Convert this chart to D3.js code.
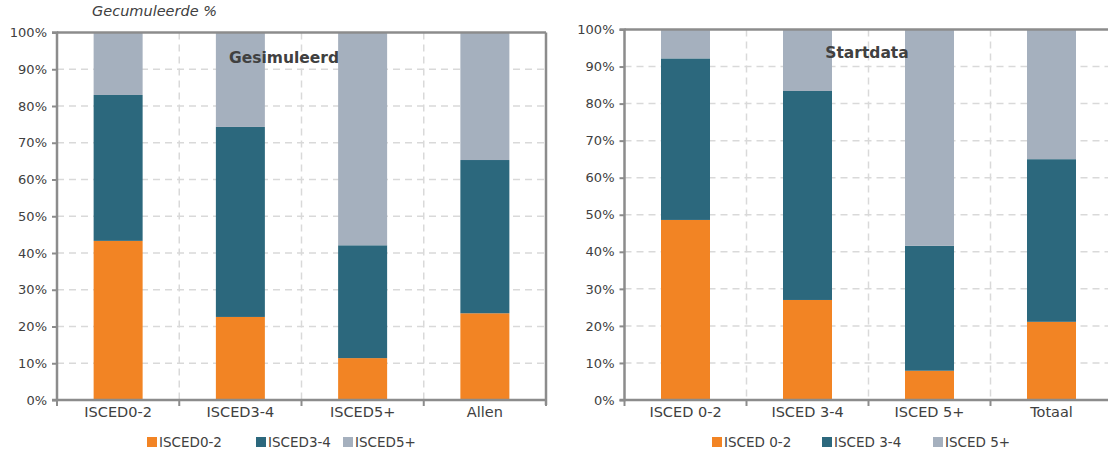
<!DOCTYPE html>
<html><head><meta charset="utf-8">
<script src="https://cdn.jsdelivr.net/npm/d3@7"></script>
<style>
body{margin:0;background:#fff;}
svg text{font-family:"DejaVu Sans",sans-serif;fill:#404040;}
</style></head>
<body><svg id="c" width="1108" height="450"></svg>
<script>
const simCategories = ["ISCED0-2","ISCED3-4","ISCED5+","Allen"];
const simSeries = ["ISCED0-2","ISCED3-4","ISCED5+"];
const simLow = [43.3, 22.6, 11.4, 23.6];
const simMid = [39.7, 51.7, 30.7, 41.7];
const simHigh = [17.0, 25.7, 57.9, 34.7];

const startCategories = ["ISCED 0-2","ISCED 3-4","ISCED 5+","Totaal"];
const startSeries = ["ISCED 0-2","ISCED 3-4","ISCED 5+"];
const startLow = [48.6, 27.0, 7.9, 21.1];
const startMid = [43.6, 56.4, 33.7, 43.9];
const startHigh = [7.8, 16.6, 58.4, 35.0];

const yTicks = [0,10,20,30,40,50,60,70,80,90,100];
const colors = ["#F28424","#2C687D","#A5B0BE"];

const svg = d3.select("#c");
const FONT = "DejaVu Sans";

function drawChart(o){
  const g = svg.append("g");
  const x = d3.scaleBand().domain(o.cats).range([o.x0,o.x1]).paddingInner(0).paddingOuter(0);
  const y = d3.scaleLinear().domain([0,100]).range([o.y0,o.y1]);
  const rows = o.cats.map((c,i)=>({cat:c, a:o.vals[0][i], b:o.vals[1][i], c2:o.vals[2][i]}));
  const stack = d3.stack().keys(["a","b","c2"])(rows);
  g.append("g").selectAll("line").data(yTicks.filter(t=>t>0&&t<100)).join("line")
    .attr("x1",o.x0).attr("x2",o.x1).attr("y1",d=>y(d)).attr("y2",d=>y(d))
    .attr("stroke","#d9d9d9").attr("stroke-width",1.5).attr("stroke-dasharray","7,5");
  g.append("g").selectAll("line").data(o.cats.slice(1)).join("line")
    .attr("x1",d=>x(d)).attr("x2",d=>x(d)).attr("y1",o.y1).attr("y2",o.y0)
    .attr("stroke","#d9d9d9").attr("stroke-width",1.5).attr("stroke-dasharray","7,5");
  const bw = 49;
  g.append("g").selectAll("g").data(stack).join("g").attr("fill",(d,i)=>colors[i])
    .selectAll("rect").data(d=>d).join("rect")
    .attr("x",d=>x(d.data.cat)+x.bandwidth()/2-bw/2).attr("width",bw)
    .attr("y",d=>y(d[1])).attr("height",d=>y(d[0])-y(d[1]));
  g.append("line").attr("x1",o.x0).attr("x2",o.x1).attr("y1",o.y1).attr("y2",o.y1)
    .attr("stroke","#8c8c8c").attr("stroke-width",2.5);
  g.append("line").attr("x1",o.x1).attr("x2",o.x1).attr("y1",o.y1).attr("y2",o.y0+5)
    .attr("stroke","#8c8c8c").attr("stroke-width",2.5);
  const ya = g.append("g").attr("transform",`translate(${o.x0},0)`)
    .call(d3.axisLeft(y).tickValues(yTicks).tickFormat(d=>d+"%").tickSize(5).tickPadding(5));
  ya.select(".domain").attr("stroke","#8c8c8c").attr("stroke-width",2.5).attr("d",`M-5,${o.y0}H0V${o.y1}H-5`);
  ya.selectAll(".tick line").attr("stroke","#8c8c8c").attr("stroke-width",2);
  ya.selectAll(".tick text").style("font-size","13px").style("font-family",FONT).attr("fill","#404040");
  const xa = g.append("g").attr("transform",`translate(0,${o.y0})`)
    .call(d3.axisBottom(x).tickSize(0).tickPadding(7));
  xa.select(".domain").attr("stroke","#8c8c8c").attr("stroke-width",2.5).attr("d",`M${o.x0},0H${o.x1}`);
  xa.selectAll(".tick text").style("font-size","14.5px").style("font-family",FONT).attr("fill","#404040");
  const bounds = o.cats.map(c=>x(c)).concat([o.x1]);
  g.append("g").selectAll("line").data(bounds).join("line")
    .attr("x1",d=>d).attr("x2",d=>d).attr("y1",o.y0).attr("y2",o.y0+6)
    .attr("stroke","#8c8c8c").attr("stroke-width",2);
  g.append("text").attr("x",o.tx).attr("y",o.ty).attr("text-anchor","middle")
    .style("font-size","15.5px").style("font-weight","bold").attr("fill","#404040").text(o.title);
  const lg = g.append("g");
  o.series.forEach((s,i)=>{
    lg.append("rect").attr("x",o.legX[i]).attr("y",437).attr("width",10).attr("height",10).attr("fill",colors[i]);
    lg.append("text").attr("x",o.legX[i]+12).attr("y",447).style("font-size","13.5px").text(s);
  });
}

drawChart({cats:simCategories, series:simSeries, vals:[simLow,simMid,simHigh],
  x0:57, x1:546, y0:400, y1:32.5, title:"Gesimuleerd", tx:284, ty:63, legX:[147,256,343]});
drawChart({cats:startCategories, series:startSeries, vals:[startLow,startMid,startHigh],
  x0:624.5, x1:1112.5, y0:400, y1:29.5, title:"Startdata", tx:867, ty:58, legX:[712,822,933]});

svg.append("text").attr("x",92).attr("y",16).style("font-size","14.5px").style("font-style","italic").attr("fill","#202020").text("Gecumuleerde %");
</script></body></html>
